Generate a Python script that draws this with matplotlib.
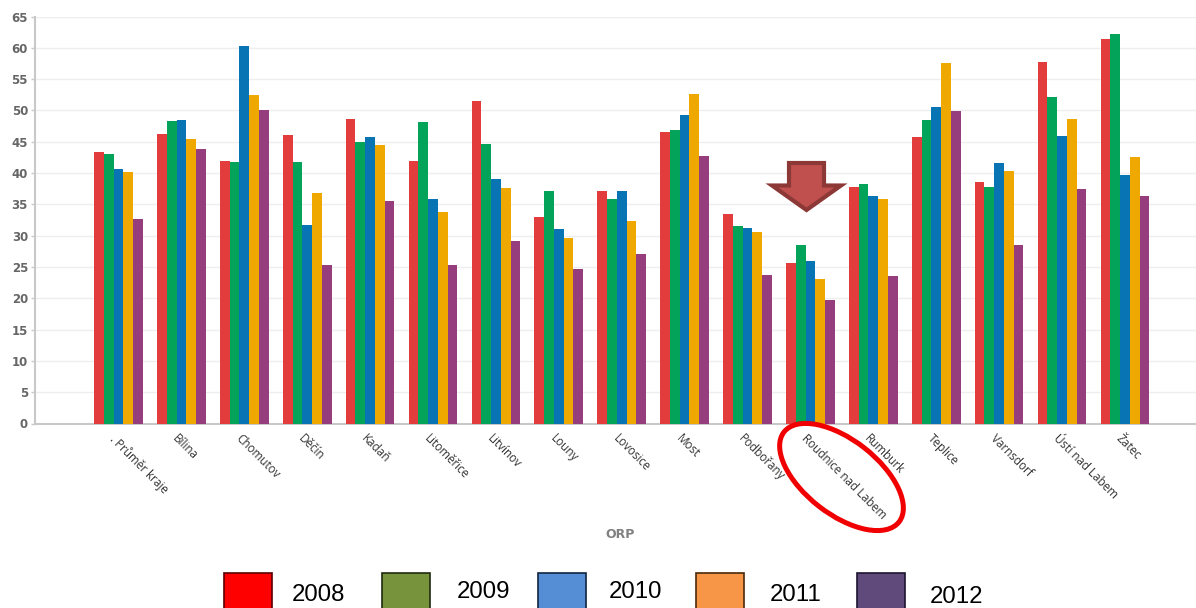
import matplotlib
matplotlib.use("Agg")
import matplotlib.pyplot as plt
import numpy as np
from matplotlib.patches import Ellipse, Polygon, Rectangle
from matplotlib.transforms import ScaledTranslation

categories = [". Průměr kraje", "Bílina", "Chomutov", "Děčín", "Kadaň", "Litoměřice",
              "Litvínov", "Louny", "Lovosice", "Most", "Podbořany", "Roudnice nad Labem",
              "Rumburk", "Teplice", "Varnsdorf", "Ústí nad Labem", "Žatec"]
years = ["2008", "2009", "2010", "2011", "2012"]
v2008 = [43.3, 46.2, 41.9, 46.0, 48.6, 42.0, 51.5, 33.0, 37.2, 46.6, 33.4, 25.7, 37.7, 45.8, 38.5, 57.8, 61.4]
v2009 = [43.0, 48.3, 41.7, 41.7, 45.0, 48.1, 44.7, 37.1, 35.9, 46.8, 31.5, 28.5, 38.2, 48.5, 37.7, 52.2, 62.2]
v2010 = [40.6, 48.5, 60.3, 31.7, 45.8, 35.8, 39.0, 31.0, 37.1, 49.2, 31.2, 26.0, 36.3, 50.6, 41.6, 45.9, 39.7]
v2011 = [40.2, 45.5, 52.4, 36.8, 44.5, 33.8, 37.6, 29.6, 32.4, 52.6, 30.6, 23.0, 35.8, 57.6, 40.4, 48.6, 42.5]
v2012 = [32.6, 43.8, 50.1, 25.3, 35.5, 25.3, 29.1, 24.6, 27.0, 42.8, 23.7, 19.8, 23.5, 49.9, 28.5, 37.5, 36.3]
series = [v2008, v2009, v2010, v2011, v2012]
bar_colors = ["#e23c3c", "#04a35a", "#0874b4", "#eea800", "#953d7d"]
legend_colors = ["#ff0000", "#77933c", "#558ed5", "#f79646", "#604a7b"]
legend_edges = ["#5a0000", "#1f2a10", "#10253f", "#4a2a08", "#1d1430"]

W, H = 1196, 608
fig = plt.figure(figsize=(W / 100, H / 100), dpi=100, facecolor="white")
left, right, top, bottom = 35, 1196, 16.5, 423.5
ax = fig.add_axes([left / W, 1 - bottom / H, (right - left) / W, (bottom - top) / H])

x = np.arange(len(categories))
bw = 0.155
for i, (vals, c) in enumerate(zip(series, bar_colors)):
    ax.bar(x + (i - 2) * bw, vals, width=bw, color=c, linewidth=0, zorder=3)

ax.set_xlim(-1.327, 17.13)
ax.set_ylim(0, 65)
ax.set_yticks(range(0, 66, 5))
ax.grid(axis="y", color="#eeeeee", linewidth=1, zorder=0)
ax.set_axisbelow(True)
for s in ("top", "right"):
    ax.spines[s].set_visible(False)
for s in ("left", "bottom"):
    ax.spines[s].set_color("#c8c8c8")
    ax.spines[s].set_linewidth(1.5)
ax.tick_params(axis="y", length=3, width=1, color="#c8c8c8", pad=2, labelsize=8.5, labelcolor="#666666")
for t in ax.get_yticklabels():
    t.set_fontweight("bold")
    t.set_family("DejaVu Sans")

ax.set_xticks(x)
ax.set_xticklabels(categories, rotation=-45, ha="left", va="top", rotation_mode="anchor",
                   family="Open Sans", fontsize=8.4, color="#333333")
ax.tick_params(axis="x", length=0, pad=6)
off = ScaledTranslation(-2 / 100, 0, fig.dpi_scale_trans)
for t in ax.get_xticklabels():
    t.set_transform(t.get_transform() + off)

# overlay in pixel units for the hand-drawn annotations
ov = fig.add_axes([0, 0, 1, 1], facecolor="none", zorder=5)
ov.set_xlim(0, W)
ov.set_ylim(H, 0)
ov.axis("off")

ov.text(620, 534.5, "ORP", ha="center", va="center", fontsize=9, fontweight="bold",
        color="#808080", family="DejaVu Sans")

ov.add_patch(Ellipse((841.5, 477), 146, 74, angle=38, fill=False, edgecolor="#f00000", linewidth=3.6))
ov.add_patch(Polygon([(789, 163), (824, 163), (824, 185.5), (841, 185.5), (806.5, 210), (772, 185.5), (789, 185.5)],
                     closed=True, facecolor="#c0504d", edgecolor="#8c3836", linewidth=3.0, joinstyle="miter"))

sq_x = [224, 382, 538, 696, 857]
txt_x = [292, 457, 609, 770, 930]
txt_y = [595, 592, 592, 595, 597]
for i, yr in enumerate(years):
    ov.add_patch(Rectangle((sq_x[i], 573), 48, 50, facecolor=legend_colors[i],
                           edgecolor=legend_edges[i], linewidth=1.2, clip_on=True))
    ov.text(txt_x[i], txt_y[i], yr, ha="left", va="center", fontsize=17.3,
            family="Liberation Sans", color="black")

fig.savefig("out.png", dpi=100)
